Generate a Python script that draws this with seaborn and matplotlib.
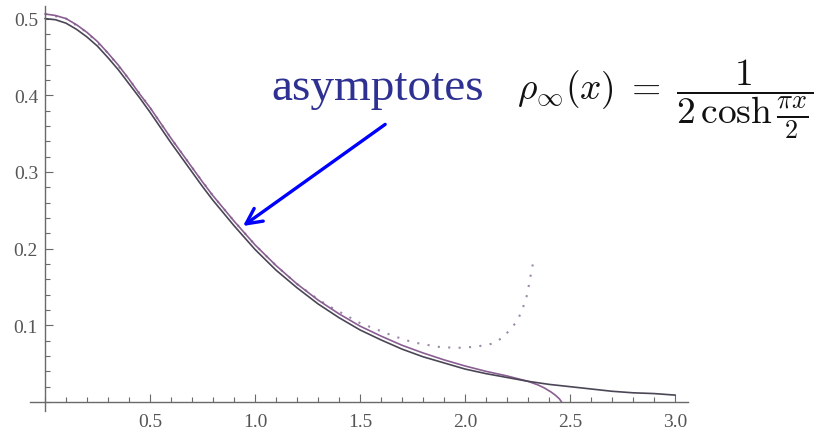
import numpy as np
import pandas as pd
import seaborn as sns
import matplotlib.pyplot as plt
from matplotlib.ticker import FixedLocator, MultipleLocator

sns.set_theme(style="white")
plt.rcParams['font.family'] = ['Liberation Serif', 'DejaVu Serif']
plt.rcParams['mathtext.fontset'] = 'cm'

# exact asymptote rho_inf(x)
x_exact = [0.0, 0.05, 0.1, 0.15, 0.2, 0.25, 0.3, 0.35, 0.4, 0.45, 0.5, 0.55, 0.6, 0.65,
           0.7, 0.75, 0.8, 0.9, 1.0, 1.1, 1.2, 1.3, 1.4, 1.5, 1.6, 1.7, 1.8, 1.9, 2.0,
           2.1, 2.2, 2.3, 2.4, 2.5, 2.6, 2.7, 2.8, 2.9, 3.0]
y_exact = [0.500, 0.4985, 0.494, 0.486, 0.476, 0.464, 0.449, 0.433, 0.415, 0.397, 0.378,
           0.358, 0.338, 0.319, 0.300, 0.281, 0.263, 0.230, 0.199, 0.172, 0.149, 0.128,
           0.110, 0.094, 0.081, 0.069, 0.059, 0.051, 0.043, 0.037, 0.032, 0.027, 0.023,
           0.020, 0.017, 0.014, 0.012, 0.011, 0.009]

# purple solid approximation, ends on the axis near 2.46
x_approx = [0.0, 0.05, 0.1, 0.15, 0.2, 0.25, 0.3, 0.35, 0.4, 0.45, 0.5, 0.55, 0.6, 0.65,
            0.7, 0.75, 0.8, 0.9, 1.0, 1.1, 1.2, 1.3, 1.4, 1.5, 1.6, 1.7, 1.8, 1.9, 2.0,
            2.1, 2.2, 2.3, 2.35, 2.38, 2.41, 2.43, 2.45, 2.46]
y_approx = [0.506, 0.504, 0.500, 0.492, 0.482, 0.470, 0.455, 0.439, 0.421, 0.402, 0.384,
            0.364, 0.344, 0.325, 0.306, 0.287, 0.269, 0.236, 0.205, 0.178, 0.154, 0.133,
            0.115, 0.099, 0.086, 0.074, 0.064, 0.055, 0.047, 0.040, 0.034, 0.027, 0.022,
            0.018, 0.013, 0.009, 0.004, 0.0]

# dotted approximation, turns upward after x ~ 2
x_dotted = [0.0, 0.1, 0.2, 0.3, 0.4, 0.5, 0.6, 0.7, 0.8, 0.9, 1.0, 1.1, 1.2, 1.3, 1.36,
            1.5, 1.66, 1.75, 1.87, 1.96, 2.05, 2.13, 2.18, 2.21, 2.25, 2.27, 2.29, 2.30,
            2.31, 2.32, 2.33]
y_dotted = [0.506, 0.500, 0.482, 0.455, 0.421, 0.384, 0.344, 0.306, 0.269, 0.236, 0.205,
            0.178, 0.154, 0.134, 0.124, 0.103, 0.086, 0.078, 0.072, 0.0705, 0.072, 0.076,
            0.084, 0.093, 0.106, 0.119, 0.133, 0.146, 0.161, 0.175, 0.190]

x_ticks = [0.5, 1.0, 1.5, 2.0, 2.5, 3.0]
y_ticks = [0.1, 0.2, 0.3, 0.4, 0.5]

fig = plt.figure(figsize=(8.27, 4.35), dpi=100)
ax = fig.add_axes([0.0366, 0.0524, 0.7948, 0.9326])

df_exact = pd.DataFrame({'x': x_exact, 'y': y_exact})
df_approx = pd.DataFrame({'x': x_approx, 'y': y_approx})
df_dotted = pd.DataFrame({'x': x_dotted, 'y': y_dotted})

sns.lineplot(data=df_dotted, x='x', y='y', ax=ax, color='#9c8aa6', lw=1.5,
             linestyle=(0, (1, 4)), sort=False)
sns.lineplot(data=df_approx, x='x', y='y', ax=ax, color='#8a5e92', lw=1.2, sort=False)
sns.lineplot(data=df_exact, x='x', y='y', ax=ax, color='#4b4656', lw=1.2, sort=False)

ax.set_xlim(-0.07, 3.06)
ax.set_ylim(-0.012, 0.517)
ax.set_xlabel('')
ax.set_ylabel('')

# Mathematica-style axes crossing at the origin
for side in ['top', 'right']:
    ax.spines[side].set_visible(False)
ax.spines['left'].set_position(('data', 0))
ax.spines['bottom'].set_position(('data', 0))
for side in ['left', 'bottom']:
    ax.spines[side].set_color('#6a6a6a')
    ax.spines[side].set_linewidth(1.0)

ax.xaxis.set_major_locator(FixedLocator(x_ticks))
ax.yaxis.set_major_locator(FixedLocator(y_ticks))
ax.xaxis.set_minor_locator(MultipleLocator(0.1))
ax.yaxis.set_minor_locator(MultipleLocator(0.02))
ax.set_xticklabels([f'{v:.1f}' for v in x_ticks])
ax.set_yticklabels([f'{v:.1f}' for v in y_ticks])
ax.tick_params(which='both', direction='in', color='#6a6a6a', width=0.8,
               labelcolor='#555555', labelsize=14)
ax.tick_params(which='major', length=6)
ax.tick_params(which='minor', length=3.5)
ax.tick_params(axis='x', pad=8)
ax.tick_params(axis='y', pad=5)
ax.tick_params(axis='both', which='both', bottom=True, left=True)

# annotation
ax.annotate('', xy=(0.943, 0.2295), xytext=(1.62, 0.362),
            arrowprops=dict(arrowstyle='->', color='#0000ff', lw=2.4,
                            mutation_scale=28, shrinkA=0, shrinkB=0))
ax.text(1.08, 0.395, 'asymptotes', color='#2e3192', fontsize=34,
        ha='left', va='baseline')
ax.text(2.248, 0.396, r'$\rho_\infty(x)\;=\;\dfrac{1}{2\,\cosh\frac{\pi x}{2}}$',
        color='#111111', fontsize=27, ha='left', va='center')

fig.savefig('out.png', dpi=100)
